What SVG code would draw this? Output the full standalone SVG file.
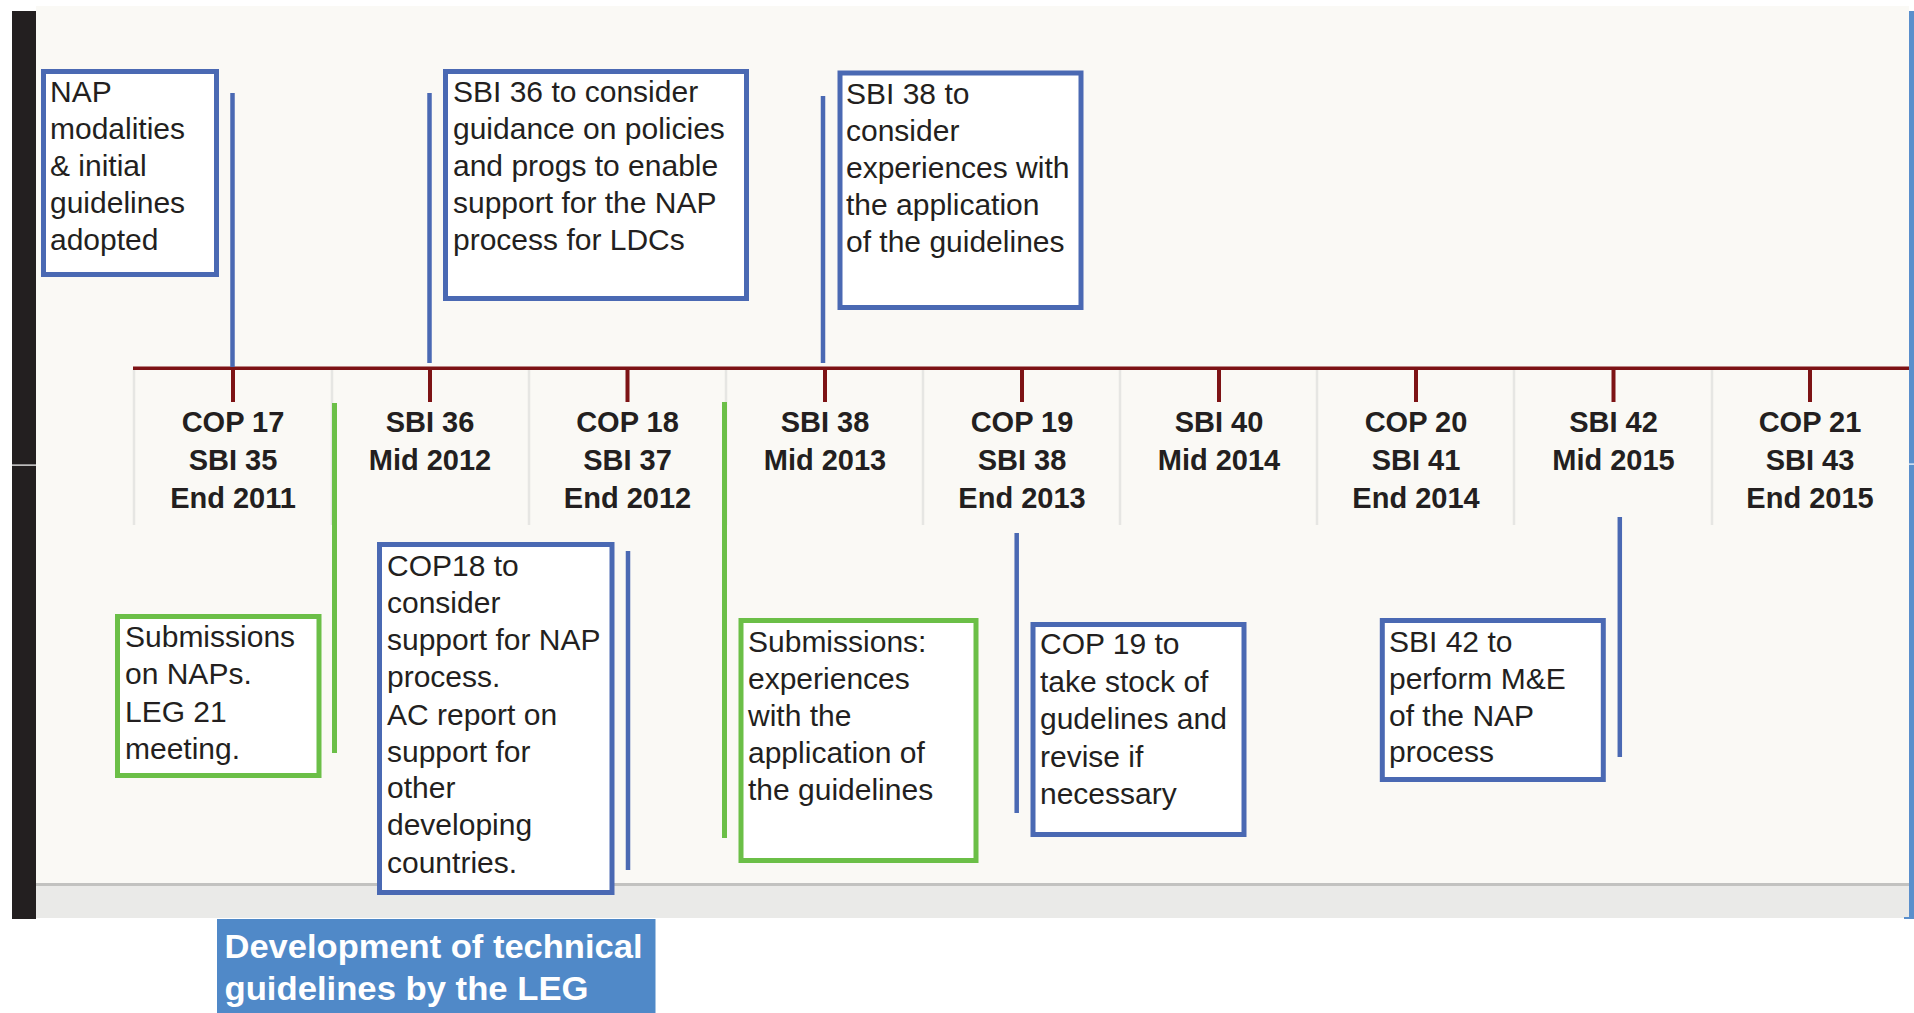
<svg xmlns="http://www.w3.org/2000/svg" width="1914" height="1013" viewBox="0 0 1914 1013">
<style>
.bg{fill:#faf9f5}
.box{fill:#ffffff;stroke-width:5}
.bl{stroke:#4a69b3}
.gr{stroke:#6bbf47}
.t{font-family:"Liberation Sans",Arial,sans-serif;font-size:30px;fill:#231f20}
.lab{font-family:"Liberation Sans",Arial,sans-serif;font-size:29px;font-weight:bold;fill:#231f20;text-anchor:middle}
.ttl{font-family:"Liberation Sans",Arial,sans-serif;font-size:33px;font-weight:bold;fill:#ffffff}
.lineb{stroke:#4a69b3;stroke-width:4.5}
.lineg{stroke:#6bbf47;stroke-width:5}
.tick{stroke:#7d1315;stroke-width:4}
.sep{stroke:#e6e6e3;stroke-width:2.5}
</style>
<rect x="0" y="0" width="1914" height="1013" fill="#ffffff"/>
<g id="frame">
<rect class="bg" x="36" y="6" width="1873" height="877"/>
<rect x="36" y="883" width="1873" height="3" fill="#c2c2c0"/>
<rect x="36" y="886" width="1873" height="32" fill="#eaeae8"/>
<rect x="12" y="11" width="24" height="908" fill="#231f20"/>
<rect x="12" y="464.5" width="24" height="1.2" fill="#ffffff"/>
<rect x="1909" y="11" width="5" height="908" fill="#5a8fcc"/>
<rect x="1904" y="917" width="10" height="2" fill="#5a8fcc"/>
<rect x="1909" y="463.5" width="5" height="1.2" fill="#ffffff"/>
</g>
<g id="timeline">
<line class="sep" x1="134" y1="369" x2="134" y2="525"/>
<line class="sep" x1="332" y1="369" x2="332" y2="525"/>
<line class="sep" x1="529" y1="369" x2="529" y2="525"/>
<line class="sep" x1="726" y1="369" x2="726" y2="525"/>
<line class="sep" x1="923" y1="369" x2="923" y2="525"/>
<line class="sep" x1="1120" y1="369" x2="1120" y2="525"/>
<line class="sep" x1="1317" y1="369" x2="1317" y2="525"/>
<line class="sep" x1="1514" y1="369" x2="1514" y2="525"/>
<line class="sep" x1="1712" y1="369" x2="1712" y2="525"/>
<rect x="133" y="366.5" width="1776" height="3.5" fill="#7d1315"/>
<line class="tick" x1="233" y1="368" x2="233" y2="402"/>
<line class="tick" x1="430" y1="368" x2="430" y2="402"/>
<line class="tick" x1="627.5" y1="368" x2="627.5" y2="402"/>
<line class="tick" x1="825" y1="368" x2="825" y2="402"/>
<line class="tick" x1="1022" y1="368" x2="1022" y2="402"/>
<line class="tick" x1="1219" y1="368" x2="1219" y2="402"/>
<line class="tick" x1="1416" y1="368" x2="1416" y2="402"/>
<line class="tick" x1="1613.5" y1="368" x2="1613.5" y2="402"/>
<line class="tick" x1="1810" y1="368" x2="1810" y2="402"/>
</g>
<g id="m1"><text class="lab" x="233" y="432">COP 17</text><text class="lab" x="233" y="470">SBI 35</text><text class="lab" x="233" y="508">End 2011</text></g>
<g id="m2"><text class="lab" x="430" y="432">SBI 36</text><text class="lab" x="430" y="470">Mid 2012</text></g>
<g id="m3"><text class="lab" x="627.5" y="432">COP 18</text><text class="lab" x="627.5" y="470">SBI 37</text><text class="lab" x="627.5" y="508">End 2012</text></g>
<g id="m4"><text class="lab" x="825" y="432">SBI 38</text><text class="lab" x="825" y="470">Mid 2013</text></g>
<g id="m5"><text class="lab" x="1022" y="432">COP 19</text><text class="lab" x="1022" y="470">SBI 38</text><text class="lab" x="1022" y="508">End 2013</text></g>
<g id="m6"><text class="lab" x="1219" y="432">SBI 40</text><text class="lab" x="1219" y="470">Mid 2014</text></g>
<g id="m7"><text class="lab" x="1416" y="432">COP 20</text><text class="lab" x="1416" y="470">SBI 41</text><text class="lab" x="1416" y="508">End 2014</text></g>
<g id="m8"><text class="lab" x="1613.5" y="432">SBI 42</text><text class="lab" x="1613.5" y="470">Mid 2015</text></g>
<g id="m9"><text class="lab" x="1810" y="432">COP 21</text><text class="lab" x="1810" y="470">SBI 43</text><text class="lab" x="1810" y="508">End 2015</text></g>
<g id="connectors">
<line class="lineb" x1="232.5" y1="93" x2="232.5" y2="367"/>
<line class="lineb" x1="429.5" y1="93" x2="429.5" y2="363"/>
<line class="lineb" x1="823" y1="96" x2="823" y2="363"/>
<line class="lineg" x1="334.5" y1="403" x2="334.5" y2="753"/>
<line class="lineb" x1="628" y1="551" x2="628" y2="870"/>
<line class="lineg" x1="724.5" y1="402" x2="724.5" y2="838"/>
<line class="lineb" x1="1016.7" y1="533" x2="1016.7" y2="813"/>
<line class="lineb" x1="1619.8" y1="517" x2="1619.8" y2="757"/>
</g>
<g id="n-nap">
<rect class="box bl" x="43.5" y="71.5" width="173" height="203"/>
<text class="t" x="50" y="102">NAP</text>
<text class="t" x="50" y="139">modalities</text>
<text class="t" x="50" y="176">&amp; initial</text>
<text class="t" x="50" y="213">guidelines</text>
<text class="t" x="50" y="250">adopted</text>
</g>
<g id="n-sbi36">
<rect class="box bl" x="445.5" y="71.5" width="301" height="227"/>
<text class="t" x="453" y="102">SBI 36 to consider</text>
<text class="t" x="453" y="139">guidance on policies</text>
<text class="t" x="453" y="176">and progs to enable</text>
<text class="t" x="453" y="213">support for the NAP</text>
<text class="t" x="453" y="250">process for LDCs</text>
</g>
<g id="n-sbi38">
<rect class="box bl" x="840" y="73" width="241" height="234.5"/>
<text class="t" x="846" y="104">SBI 38 to</text>
<text class="t" x="846" y="141">consider</text>
<text class="t" x="846" y="178">experiences with</text>
<text class="t" x="846" y="215">the application</text>
<text class="t" x="846" y="252">of the guidelines</text>
</g>
<g id="n-sub1">
<rect class="box gr" x="117.5" y="616.5" width="201.5" height="159"/>
<text class="t" x="125" y="647">Submissions</text>
<text class="t" x="125" y="684">on NAPs.</text>
<text class="t" x="125" y="721.5">LEG 21</text>
<text class="t" x="125" y="759">meeting.</text>
</g>
<g id="n-cop18">
<rect class="box bl" x="379.5" y="544.5" width="232.5" height="348"/>
<text class="t" x="387" y="576">COP18 to</text>
<text class="t" x="387" y="613">consider</text>
<text class="t" x="387" y="650">support for NAP</text>
<text class="t" x="387" y="687">process.</text>
<text class="t" x="387" y="724.5">AC report on</text>
<text class="t" x="387" y="761.5">support for</text>
<text class="t" x="387" y="798">other</text>
<text class="t" x="387" y="835">developing</text>
<text class="t" x="387" y="872.5">countries.</text>
</g>
<g id="n-sub2">
<rect class="box gr" x="741" y="620.5" width="235" height="240"/>
<text class="t" x="748" y="652">Submissions:</text>
<text class="t" x="748" y="688.5">experiences</text>
<text class="t" x="748" y="725.5">with the</text>
<text class="t" x="748" y="762.5">application of</text>
<text class="t" x="748" y="800">the guidelines</text>
</g>
<g id="n-cop19">
<rect class="box bl" x="1033" y="624.5" width="211" height="210"/>
<text class="t" x="1040" y="654">COP 19 to</text>
<text class="t" x="1040" y="691.5">take stock of</text>
<text class="t" x="1040" y="729">gudelines and</text>
<text class="t" x="1040" y="766.5">revise if</text>
<text class="t" x="1040" y="804">necessary</text>
</g>
<g id="n-sbi42">
<rect class="box bl" x="1382.3" y="620.5" width="221" height="159"/>
<text class="t" x="1389" y="652">SBI 42 to</text>
<text class="t" x="1389" y="688.5">perform M&amp;E</text>
<text class="t" x="1389" y="726">of the NAP</text>
<text class="t" x="1389" y="762">process</text>
</g>
<g id="n-title">
<rect x="217" y="919" width="438.5" height="94" fill="#5089c8"/>
<text class="ttl" x="224.5" y="958" textLength="418" lengthAdjust="spacingAndGlyphs">Development of technical</text>
<text class="ttl" x="224.5" y="1000" textLength="364" lengthAdjust="spacingAndGlyphs">guidelines by the LEG</text>
</g>
</svg>
